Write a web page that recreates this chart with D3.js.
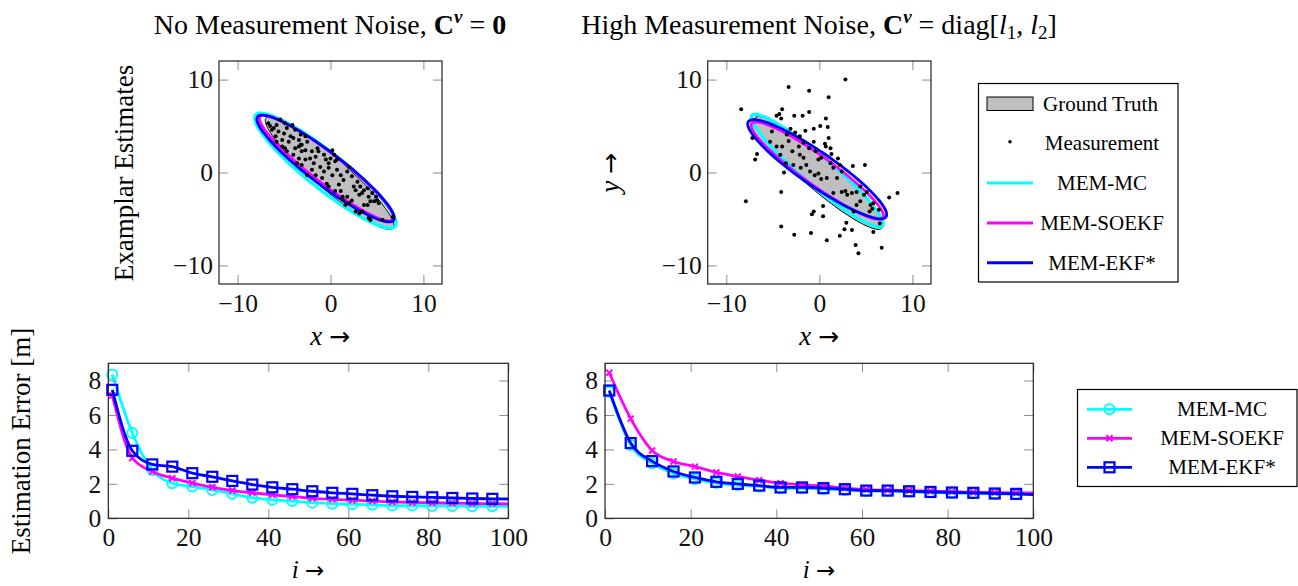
<!DOCTYPE html>
<html>
<head>
<meta charset="utf-8">
<script src="https://cdn.jsdelivr.net/npm/d3@7"></script>
<style>
  body { margin: 0; background: #fff; }
  svg { display: block; font-family: "Liberation Serif", "Times New Roman", serif; }
</style>
</head>
<body>
<svg width="1298" height="586"></svg>
<script>
// ---- data ----
const methods = ["MEM-MC", "MEM-SOEKF", "MEM-EKF*"];
const methodColors = ["#00ffff", "#ff00ff", "#0000ff"];
const methodMarks = ["circle", "cross", "square"];

// ellipses: [cx, cy, semi-major, semi-minor, angle in degrees]
const gtEllipse = [-0.1, -0.05, 9.05, 1.7, -41];
const mcEllNoNoise = [-0.55, 0.2, 9.6, 1.95, -38.6];
const soekfEllNoNoise = [-0.42, 0.47, 9.05, 1.6, -37.8];
const ekfEllNoNoise = [-0.53, 0.43, 9.2, 1.75, -37.3];
const mcEllHigh = [-0.23, 0.19, 9.2, 1.55, -40.3];
const soekfEllHigh = [-0.2, 0.2, 8.7, 1.55, -35.8];
const ekfEllHigh = [-0.23, 0.35, 9.0, 1.8, -34.7];

// measurements, no noise
const measNoNoise = [
  [-6.7,5.3],[-6.5,5.0],[-6.1,4.8],[-5.8,5.1],[-5.6,4.4],[-5.9,3.9],[-5.4,5.7],[-4.9,5.3],[-4.7,4.8],[-4.1,5.1],
  [-3.8,4.6],[-4.0,3.7],[-3.4,3.5],[-3.2,4.1],[-2.7,3.9],[-2.5,3.3],[-3.1,3.0],[-3.4,2.8],[-4.5,3.3],[-4.9,2.6],
  [-5.2,2.8],[-4.7,2.3],[-4.0,1.9],[-3.4,1.5],[-3.6,1.0],[-3.1,0.8],[-2.7,1.4],[-2.2,1.5],[-1.8,1.0],[-1.6,1.7],
  [-1.3,2.3],[-0.7,1.9],[-0.5,1.4],[-0.2,1.0],[0.2,2.4],[0.4,1.9],[0.5,1.2],[-1.1,0.6],[-2.0,0.3],[-1.6,-0.3],
  [-2.5,-0.3],[-0.9,-0.6],[-0.4,-1.2],[0.2,-0.3],[0.7,0.3],[1.1,-0.3],[0.9,-1.3],[1.4,-0.8],[2.0,0.6],[1.8,0.1],
  [2.3,-0.4],[2.9,-1.0],[2.5,-1.5],[2.7,-1.9],[3.2,-1.5],[3.4,-2.2],[3.6,-1.9],[3.1,-2.4],[4.0,-1.7],[4.1,-2.6],
  [4.5,-2.2],[4.7,-3.1],[5.0,-3.0],[5.2,-3.3],[4.9,-2.6],[1.8,-2.6],[1.4,-3.0],[1.6,-3.5],[2.0,-3.3],[2.3,-3.0],
  [2.7,-4.2],[3.1,-4.4],[3.4,-4.2],[4.1,-4.9],[4.3,-5.1],[5.6,-5.1],[6.7,-4.8],[3.6,-3.5],[4.0,-3.5],[4.3,-3.1],
  [-0.2,-1.5],[0.5,-2.0],[1.1,-2.0],[1.3,-2.6],[-2.0,2.3],[-1.4,2.6],[-5.0,4.2],[-6.3,4.6],[-2.7,2.4],[-3.1,2.3],
  [-0.7,0.1],[-0.2,0.5],[-3.8,2.6],[-3.2,3.0],[-5.2,3.5],[-5.8,3.3],[-4.3,3.9],[0.7,1.4],[0.0,1.5]
];

// measurements, high noise
const measHigh = [
  [-8.4,6.8],[-7.9,-3.1],[-3.3,9.2],[-1.1,8.8],[2.8,10.0],[1.0,8.1],[-4.6,6.1],[-4.3,6.3],[-4.0,6.8],[-4.1,5.8],
  [-2.7,6.1],[-1.8,6.1],[-1.1,6.5],[-0.6,4.7],[0.1,5.0],[0.7,5.8],[0.9,4.9],[1.0,3.7],[0.6,3.1],[1.3,2.0],
  [2.0,1.5],[3.6,0.7],[4.9,0.8],[7.5,-2.7],[8.4,-2.2],[-4.1,-2.1],[-4.1,-5.8],[-2.7,-6.7],[-0.9,-6.5],[0.8,-7.3],
  [2.2,-6.8],[2.7,-6.1],[2.9,-5.4],[3.5,-6.2],[3.9,-7.8],[4.2,-8.7],[6.7,-8.1],[5.8,-6.4],[4.4,-3.1],[4.8,-2.4],
  [-0.8,-4.5],[-0.6,-4.2],[0.4,-4.7],[0.4,-3.6],[-7.2,3.7],[-6.9,1.4],[-6.7,2.0],[-5.3,3.3],[-5.1,4.4],[-4.2,1.9],
  [-3.8,0.0],[-3.6,1.0],[-3.5,4.1],[-3.1,4.7],[-2.6,4.3],[-2.1,3.9],[-1.7,3.2],[-1.1,2.6],[-0.4,2.3],[-0.1,1.4],
  [0.2,1.6],[-2.1,1.9],[-1.7,1.6],[-1.4,0.8],[-1.0,0.1],[-0.5,-0.3],[-0.1,-0.1],[0.2,-0.7],[1.2,1.0],[1.5,0.5],
  [2.2,0.8],[2.4,0.1],[1.5,-2.2],[2.4,-2.1],[3.0,-2.4],[3.5,-2.2],[4.0,-2.1],[4.4,-1.5],[5.1,-2.1],[5.5,-3.5],
  [5.7,-3.9],[5.8,-3.3],[6.4,-4.0],[6.5,-5.5],[5.4,-4.2],[4.0,-3.5],[3.7,-4.2],[2.8,-2.0],[1.9,-0.6],[0.8,-0.6],
  [-2.0,0.5],[-2.8,0.8],[-2.2,2.8],[-2.9,2.3],[-3.3,3.4],[-4.0,2.8],[-4.6,2.8],[-1.5,4.5],[-0.6,3.3],[0.7,2.8],
  [1.2,2.6]
];

// estimation error vs. time step
const iSteps = [1,6,11,16,21,26,31,36,41,46,51,56,61,66,71,76,81,86,91,96,100];
const mcErrNoNoise = [8.35,4.95,2.8,2.04,1.84,1.65,1.42,1.2,1.07,1.0,0.91,0.85,0.82,0.78,0.74,0.74,0.72,0.72,0.7,0.7,0.7];
const soekfErrNoNoise = [7.13,3.5,2.72,2.33,2.04,1.8,1.61,1.48,1.36,1.26,1.16,1.1,1.05,1.0,0.95,0.92,0.9,0.88,0.86,0.85,0.84];
const ekfErrNoNoise = [7.46,3.92,3.13,3.0,2.62,2.41,2.17,1.96,1.8,1.69,1.57,1.48,1.42,1.34,1.28,1.24,1.22,1.18,1.15,1.13,1.12];
const mcErrHigh = [7.35,4.25,3.2,2.6,2.28,2.05,1.93,1.85,1.75,1.74,1.7,1.65,1.58,1.58,1.55,1.5,1.47,1.45,1.42,1.4,1.37];
const soekfErrHigh = [8.45,5.79,3.94,3.3,3.0,2.66,2.43,2.21,2.04,1.94,1.88,1.75,1.67,1.63,1.61,1.57,1.55,1.51,1.5,1.48,1.48];
const ekfErrHigh = [7.42,4.37,3.32,2.72,2.37,2.12,2.0,1.9,1.79,1.79,1.75,1.69,1.61,1.61,1.57,1.53,1.5,1.48,1.44,1.42,1.38];

const scatterTicks = [-10, 0, 10];
const errXTicks = [0, 20, 40, 60, 80, 100];
const errYTicks = [0, 2, 4, 6, 8];

// ---- drawing ----
const svg = d3.select("svg");
const tickColor = "#8c8c8c";
const tickFont = "25.5px";

function ellipsePoints(p) {
  const [cx, cy, a, b, deg] = p;
  const t = deg * Math.PI / 180;
  return d3.range(0, 361, 3).map(k => {
    const s = k * Math.PI / 180;
    const u = a * Math.cos(s), v = b * Math.sin(s);
    return [cx + u * Math.cos(t) - v * Math.sin(t), cy + u * Math.sin(t) + v * Math.cos(t)];
  });
}

function frameAxes(g, x, y, xt, yt, xPad, yPad) {
  const [x0, x1] = x.range();
  const [y0, y1] = y.range();
  g.append("g").attr("transform", `translate(0,${y0})`)
    .call(d3.axisBottom(x).tickValues(xt).tickSizeInner(-9).tickSizeOuter(0).tickPadding(xPad));
  g.append("g").attr("transform", `translate(${x0},0)`)
    .call(d3.axisLeft(y).tickValues(yt).tickSizeInner(-9).tickSizeOuter(0).tickPadding(yPad));
  g.append("g").attr("transform", `translate(0,${y1})`)
    .call(d3.axisTop(x).tickValues(xt).tickSizeInner(-9).tickSizeOuter(0).tickFormat(""));
  g.append("g").attr("transform", `translate(${x1},0)`)
    .call(d3.axisRight(y).tickValues(yt).tickSizeInner(-9).tickSizeOuter(0).tickFormat(""));
  g.selectAll(".domain").remove();
  g.selectAll(".tick line").attr("stroke", tickColor).attr("stroke-width", 1);
  g.selectAll(".tick text").attr("font-family", "Liberation Serif").attr("font-size", tickFont).attr("fill", "#111");
  g.append("rect").attr("x", x0).attr("y", y1).attr("width", x1 - x0).attr("height", y0 - y1)
    .attr("fill", "none").attr("stroke", "#222").attr("stroke-width", 1.2);
}

function drawScatterPanel(xRange, ests, meas) {
  const x = d3.scaleLinear().domain([-12, 12]).range(xRange);
  const y = d3.scaleLinear().domain([-12, 12]).range([284, 61]);
  const g = svg.append("g");
  const line = d3.line().x(d => x(d[0])).y(d => y(d[1]));

  g.append("path").attr("d", line(ellipsePoints(gtEllipse)) + "Z")
    .attr("fill", "#bfbfbf").attr("stroke", "#000").attr("stroke-width", 1);
  ests.forEach((p, k) => {
    g.append("path").attr("d", line(ellipsePoints(p)) + "Z")
      .attr("fill", "none").attr("stroke", methodColors[k])
      .attr("stroke-width", k === 0 ? 3.4 : 2.8);
  });
  g.selectAll(".meas").data(meas).enter().append("circle")
    .attr("class", "meas")
    .attr("cx", d => x(d[0])).attr("cy", d => y(d[1])).attr("r", 2)
    .attr("fill", "#000");
  frameAxes(g, x, y, scatterTicks, scatterTicks, 10, 6);
}

function drawMarker(g, kind, color, cx, cy) {
  if (kind === "circle") {
    g.append("circle").attr("cx", cx).attr("cy", cy).attr("r", 5)
      .attr("fill", "none").attr("stroke", color).attr("stroke-width", 2);
  } else if (kind === "square") {
    g.append("rect").attr("x", cx - 5).attr("y", cy - 5).attr("width", 10).attr("height", 10)
      .attr("fill", "none").attr("stroke", color).attr("stroke-width", 2.2);
  } else {
    g.append("path").attr("d", `M${cx - 3},${cy - 3}L${cx + 3},${cy + 3}M${cx - 3},${cy + 3}L${cx + 3},${cy - 3}`)
      .attr("stroke", color).attr("stroke-width", 2);
  }
}

function drawErrorPanel(xRange, seriesList) {
  const x = d3.scaleLinear().domain([0, 100]).range(xRange);
  const y = d3.scaleLinear().domain([0, 9]).range([518.3, 363.3]);
  const g = svg.append("g");
  const line = d3.line().x((d, i) => x(iSteps[i])).y(d => y(d)).curve(d3.curveMonotoneX);
  seriesList.forEach((vals, k) => {
    g.append("path").attr("d", line(vals)).attr("fill", "none")
      .attr("stroke", methodColors[k]).attr("stroke-width", 2.8);
    vals.forEach((v, i) => {
      if (iSteps[i] % 5 === 1) drawMarker(g, methodMarks[k], methodColors[k], x(iSteps[i]), y(v));
    });
  });
  frameAxes(g, x, y, errXTicks, errYTicks, 10, 7);
}

drawScatterPanel([219, 442], [mcEllNoNoise, soekfEllNoNoise, ekfEllNoNoise], measNoNoise);
drawScatterPanel([707.7, 931], [mcEllHigh, soekfEllHigh, ekfEllHigh], measHigh);
drawErrorPanel([108.3, 508.3], [mcErrNoNoise, soekfErrNoNoise, ekfErrNoNoise]);
drawErrorPanel([605, 1033.3], [mcErrHigh, soekfErrHigh, ekfErrHigh]);

// ---- titles and axis labels ----
const titleSize = 28;
const t1 = svg.append("text").attr("x", 330).attr("y", 34).attr("text-anchor", "middle").attr("font-size", titleSize);
t1.append("tspan").text("No Measurement Noise, ");
t1.append("tspan").attr("font-weight", "bold").text("C");
t1.append("tspan").attr("font-weight", "bold").attr("font-style", "italic").attr("font-size", 19).attr("dy", -11).text("v");
t1.append("tspan").attr("dy", 11).text(" = ");
t1.append("tspan").attr("font-weight", "bold").text("0");

const t2 = svg.append("text").attr("x", 819).attr("y", 34).attr("text-anchor", "middle").attr("font-size", titleSize);
t2.append("tspan").text("High Measurement Noise, ");
t2.append("tspan").attr("font-weight", "bold").text("C");
t2.append("tspan").attr("font-weight", "bold").attr("font-style", "italic").attr("font-size", 19).attr("dy", -11).text("v");
t2.append("tspan").attr("dy", 11).text(" = diag[");
t2.append("tspan").attr("font-style", "italic").text("l");
t2.append("tspan").attr("font-size", 19).attr("dy", 5).text("1");
t2.append("tspan").attr("dy", -5).text(", ");
t2.append("tspan").attr("font-style", "italic").text("l");
t2.append("tspan").attr("font-size", 19).attr("dy", 5).text("2");
t2.append("tspan").attr("dy", -5).text("]");

function arrowLabel(x, y, v, rotate, size) {
  const t = svg.append("text").attr("text-anchor", "middle").attr("font-size", size)
    .attr("transform", rotate ? `translate(${x},${y}) rotate(-90)` : `translate(${x},${y})`);
  t.append("tspan").attr("font-style", "italic").text(v + " ");
  t.append("tspan").attr("font-family", "DejaVu Sans").attr("font-size", size - 2).text("\u2192");
}
arrowLabel(330, 345, "x", false, 27);
arrowLabel(819, 345, "x", false, 27);
arrowLabel(308, 578, "i", false, 25);
arrowLabel(819, 578, "i", false, 25);
arrowLabel(619, 173, "y", true, 27);

svg.append("text").attr("transform", "translate(133,173) rotate(-90)")
  .attr("text-anchor", "middle").attr("font-size", 27).text("Examplar Estimates");
svg.append("text").attr("transform", "translate(30,441) rotate(-90)")
  .attr("text-anchor", "middle").attr("font-size", 27).text("Estimation Error [m]");

// ---- legends ----
const lg1 = svg.append("g");
lg1.append("rect").attr("x", 978.5).attr("y", 83.5).attr("width", 199.5).attr("height", 198.5)
  .attr("fill", "#fff").attr("stroke", "#000").attr("stroke-width", 1.2);
const legendRows1 = ["Ground Truth", "Measurement"].concat(methods);
const rowY1 = d3.scaleLinear().domain([0, 4]).range([103.5, 262.7]);
legendRows1.forEach((name, k) => {
  const yy = rowY1(k);
  if (k === 0) {
    lg1.append("rect").attr("x", 987).attr("y", yy - 6.5).attr("width", 46).attr("height", 13.5)
      .attr("fill", "#bfbfbf").attr("stroke", "#000").attr("stroke-width", 1);
  } else if (k === 1) {
    lg1.append("circle").attr("cx", 1010).attr("cy", yy - 1.5).attr("r", 1.8).attr("fill", "#000");
  } else {
    lg1.append("line").attr("x1", 987).attr("x2", 1033).attr("y1", yy).attr("y2", yy)
      .attr("stroke", methodColors[k - 2]).attr("stroke-width", 3);
  }
  lg1.append("text").attr("x", k === 0 ? 1043 : 1102).attr("y", yy + 7)
    .attr("text-anchor", k === 0 ? "start" : "middle").attr("font-size", 21).text(name);
});

const lg2 = svg.append("g");
lg2.append("rect").attr("x", 1077.5).attr("y", 389.5).attr("width", 219.5).attr("height", 97)
  .attr("fill", "#fff").attr("stroke", "#000").attr("stroke-width", 1.2);
methods.forEach((name, k) => {
  const yy = 409.3 + k * 29;
  lg2.append("line").attr("x1", 1087).attr("x2", 1132).attr("y1", yy).attr("y2", yy)
    .attr("stroke", methodColors[k]).attr("stroke-width", 2.8);
  drawMarker(lg2, methodMarks[k], methodColors[k], 1109.5, yy);
  lg2.append("text").attr("x", 1222).attr("y", yy + 7).attr("text-anchor", "middle")
    .attr("font-size", 21).text(name);
});
</script>
</body>
</html>
